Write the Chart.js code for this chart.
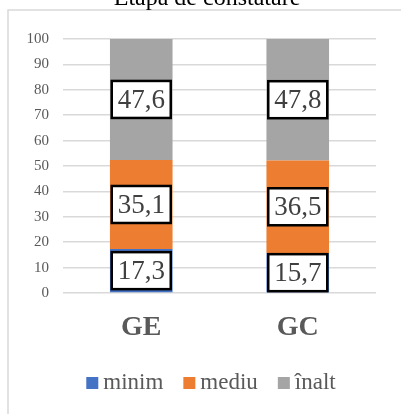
<!DOCTYPE html>
<html>
<head>
<meta charset="utf-8">
<script src="https://cdn.jsdelivr.net/npm/chart.js@4/dist/chart.umd.min.js"></script>
<style>
  html, body { margin: 0; padding: 0; background: #fff; }
  #wrap { width: 401px; height: 414px; position: relative; }
</style>
</head>
<body>
<div id="wrap"><canvas id="chart"></canvas></div>
<script>
const SERIF = "'Liberation Serif', 'Times New Roman', serif";

const TITLE      = 'Etapa de constatare';
const CATEGORIES = ['GE', 'GC'];
const SERIES     = ['minim', 'mediu', 'înalt'];
const MINIM      = [17.3, 15.7];
const MEDIU      = [35.1, 36.5];
const INALT      = [47.6, 47.8];
const COLORS     = ['#4472C4', '#ED7D31', '#A5A5A5'];
const Y_MIN = 0, Y_MAX = 100, Y_STEP = 10;

const fmt = v => v.toFixed(1).replace('.', ',');

// frame, cut-off title, boxed value labels and legend (drawn like the office chart)
const decor = {
    id: 'decor',
    beforeDraw(chart) {
        const ctx = chart.ctx;
        ctx.save();
        ctx.strokeStyle = '#D9D9D9';
        ctx.lineWidth = 1.5;
        ctx.beginPath();
        ctx.moveTo(8, 414);
        ctx.lineTo(8, 10);
        ctx.lineTo(401, 10);
        ctx.stroke();
        ctx.restore();
    },
    afterDraw(chart) {
        const ctx = chart.ctx;
        ctx.save();

        // title, top half outside the picture
        ctx.fillStyle = '#000';
        ctx.font = '24px ' + SERIF;
        ctx.textAlign = 'center';
        ctx.textBaseline = 'alphabetic';
        ctx.fillText(TITLE, 207, 5);

        // value labels
        chart.data.datasets.forEach((ds, i) => {
            const meta = chart.getDatasetMeta(i);
            meta.data.forEach((bar, j) => {
                const p = bar.getProps(['x', 'y', 'base'], true);
                const cy = (p.y + p.base) / 2;
                const w = 59, h = 37;
                ctx.fillStyle = '#fff';
                ctx.fillRect(p.x - w / 2, cy - h / 2, w, h);
                ctx.strokeStyle = '#000';
                ctx.lineWidth = 2.5;
                ctx.strokeRect(p.x - w / 2, cy - h / 2, w, h);
                ctx.fillStyle = '#404040';
                ctx.font = '27px ' + SERIF;
                ctx.textAlign = 'center';
                ctx.textBaseline = 'middle';
                ctx.fillText(fmt(ds.data[j]), p.x, cy + 1);
            });
        });

        // legend
        ctx.font = '23px ' + SERIF;
        ctx.textAlign = 'left';
        ctx.textBaseline = 'alphabetic';
        const box = 12, gap = 5, sep = 20;
        const widths = SERIES.map(s => ctx.measureText(s).width);
        const total = widths.reduce((a, b) => a + b, 0) + SERIES.length * (box + gap) + (SERIES.length - 1) * sep;
        let x = 211 - total / 2;
        SERIES.forEach((s, i) => {
            ctx.fillStyle = COLORS[i];
            ctx.fillRect(x, 377, box, box);
            x += box + gap;
            ctx.fillStyle = '#595959';
            ctx.fillText(s, x, 389);
            x += widths[i] + sep;
        });
        ctx.restore();
    }
};

const mk = (label, data, color) => ({
    label, data,
    backgroundColor: color,
    borderWidth: 0,
    barPercentage: 0.4,
    categoryPercentage: 1
});

new Chart(document.getElementById('chart'), {
    type: 'bar',
    data: {
        labels: CATEGORIES,
        datasets: [
            mk(SERIES[0], MINIM, COLORS[0]),
            mk(SERIES[1], MEDIU, COLORS[1]),
            mk(SERIES[2], INALT, COLORS[2])
        ]
    },
    options: {
        responsive: true,
        maintainAspectRatio: false,
        animation: false,
        layout: { padding: { left: 8, right: 25, top: 39, bottom: 71 } },
        plugins: {
            legend: { display: false },
            title: { display: false },
            tooltip: { enabled: false }
        },
        scales: {
            x: {
                stacked: true,
                grid: { display: false, drawTicks: false },
                border: { display: false },
                ticks: { color: '#595959', font: { family: SERIF, size: 28, weight: 'bold' }, padding: 18 },
                afterFit: s => { s.height = 50; }
            },
            y: {
                stacked: true,
                min: Y_MIN, max: Y_MAX,
                grid: { color: '#D9D9D9', lineWidth: 1.5, drawTicks: false },
                border: { display: false },
                ticks: { stepSize: Y_STEP, color: '#595959', font: { family: SERIF, size: 15 }, padding: 14 },
                afterFit: s => { s.width = 55; }
            }
        }
    },
    plugins: [decor]
});
</script>
</body>
</html>
